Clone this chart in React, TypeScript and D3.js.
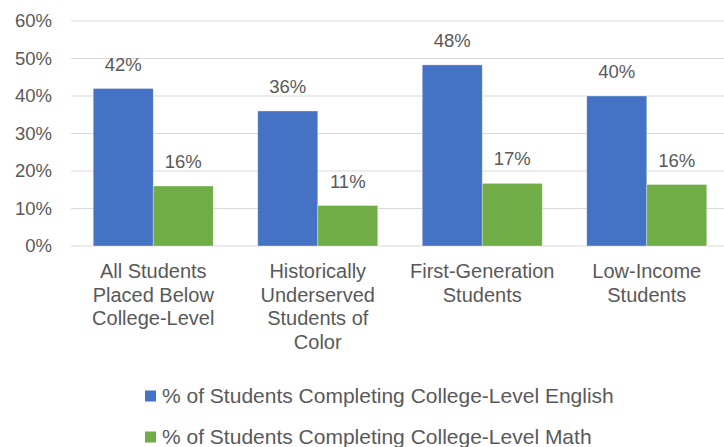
import React from "react";
import * as d3 from "d3";

const categories = [
  "All Students Placed Below College-Level",
  "Historically Underserved Students of Color",
  "First-Generation Students",
  "Low-Income Students",
];
const categoryLines = [
  ["All Students", "Placed Below", "College-Level"],
  ["Historically", "Underserved", "Students of", "Color"],
  ["First-Generation", "Students"],
  ["Low-Income", "Students"],
];
const seriesNames = [
  "% of Students Completing College-Level English",
  "% of Students Completing College-Level Math",
];
const englishValues = [0.42, 0.36, 0.483, 0.40];
const mathValues = [0.16, 0.108, 0.167, 0.164];
const seriesColors = ["#4472C4", "#70AD47"];
const yTicks = [0, 0.1, 0.2, 0.3, 0.4, 0.5, 0.6];

const W = 724;
const H = 447;
const FONT = "'Liberation Sans', Arial, sans-serif";
const TEXT = "#595959";

export default function App() {
  const y = d3.scaleLinear().domain([0, 0.6]).range([246, 21]);
  const x = d3.scaleBand<string>().domain(categories).range([71, 729]).padding(0);
  const step = x.bandwidth();
  const groupPad = (step - 120) / 2;
  const xs = d3
    .scaleBand<number>()
    .domain([0, 1])
    .range([groupPad, step - groupPad])
    .padding(0);
  const series = [englishValues, mathValues];
  const fmt = (v: number) => `${Math.round(v * 100)}%`;

  return (
    <svg
      width={W}
      height={H}
      style={{ position: "absolute", left: 0, top: 0, background: "#fff" }}
      fontFamily={FONT}
    >
      {yTicks.map((t) => (
        <g key={t}>
          <line x1={71} x2={W} y1={y(t)} y2={y(t)} stroke="#D9D9D9" strokeWidth={1.2} />
          <text
            x={52}
            y={y(t)}
            dy="0.35em"
            textAnchor="end"
            fontSize={18.5}
            fill={TEXT}
          >
            {fmt(t)}
          </text>
        </g>
      ))}
      {series.map((vals, si) =>
        vals.map((v, i) => {
          const bx = (x(categories[i]) ?? 0) + (xs(si) ?? 0);
          const bw = xs.bandwidth();
          return (
            <g key={`${si}-${i}`}>
              <rect
                x={bx}
                y={y(v)}
                width={bw}
                height={y(0) - y(v)}
                fill={seriesColors[si]}
                stroke="#ffffff"
                strokeOpacity={0.4}
                strokeWidth={0.8}
              />
              <text
                x={bx + bw / 2}
                y={y(v) - 18}
                textAnchor="middle"
                fontSize={18.5}
                fill={TEXT}
              >
                {fmt(v)}
              </text>
            </g>
          );
        })
      )}
      {categories.map((c, i) => {
        const cx = (x(c) ?? 0) + step / 2;
        return (
          <text key={c} textAnchor="middle" fontSize={20} fill={TEXT}>
            {categoryLines[i].map((ln, li) => (
              <tspan key={li} x={cx} y={278 + li * 23.5}>
                {ln}
              </tspan>
            ))}
          </text>
        );
      })}
      {seriesNames.map((name, si) => {
        const cy = 396 + si * 41;
        return (
          <g key={name}>
            <rect x={145} y={cy - 5.5} width={11} height={11} fill={seriesColors[si]} />
            <text x={162} y={cy} dy="0.35em" fontSize={21} fill={TEXT}>
              {name}
            </text>
          </g>
        );
      })}
    </svg>
  );
}
